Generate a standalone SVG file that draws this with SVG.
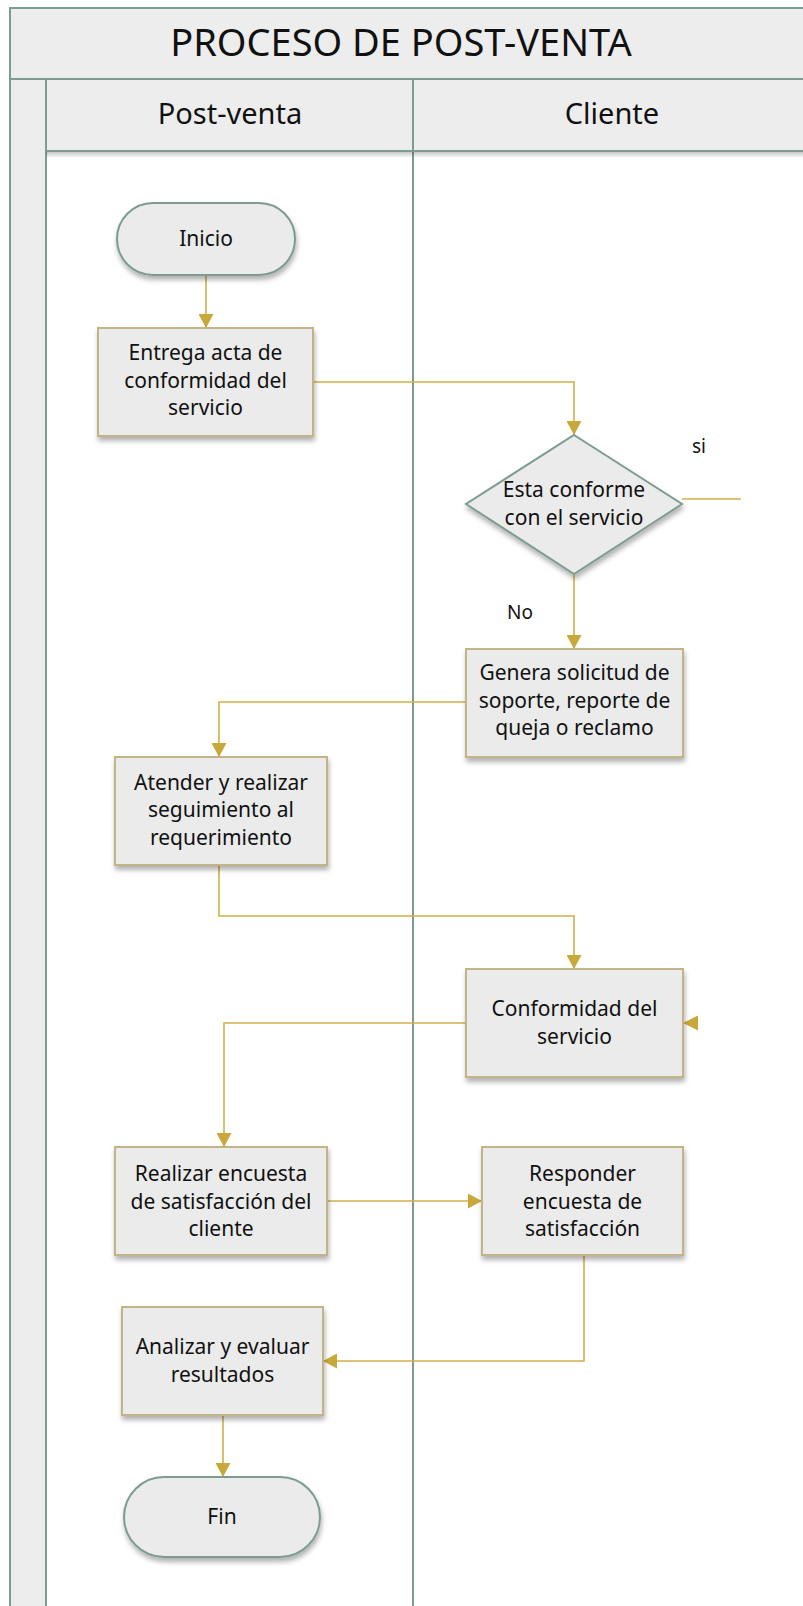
<svg xmlns="http://www.w3.org/2000/svg" width="803" height="1606" viewBox="0 0 803 1606">
  <defs>
    <style>
      .frame { fill: #EDEDED; stroke: #7D9C90; stroke-width: 2; }
      .lane { fill: #FFFFFF; stroke: #7D9C90; stroke-width: 2; }
      .box { fill: #EBEBEB; stroke: #C2B487; stroke-width: 2; filter: url(#sh); }
      .term { fill: #EBEBEB; stroke: #7D9C90; stroke-width: 2; filter: url(#sh); }
      .dec { fill: #EBEBEB; stroke: #7D9C90; stroke-width: 2; filter: url(#sh); }
      .t { font-family: "Noto Sans", "Open Sans", sans-serif; font-size: 21px; fill: #111; text-anchor: middle; }
      .lbl { font-family: "Noto Sans", "Open Sans", sans-serif; font-size: 19px; fill: #111; }
      .title { font-family: "Noto Sans", "Open Sans", sans-serif; font-size: 38px; fill: #111; text-anchor: middle; }
      .head { font-family: "Noto Sans", "Open Sans", sans-serif; font-size: 29px; fill: #111; text-anchor: middle; }
      .c { fill: none; stroke: #D1B049; stroke-width: 1.6; }
    </style>
    <filter id="sh" x="-10%" y="-10%" width="125%" height="135%">
      <feDropShadow dx="1" dy="4" stdDeviation="2.5" flood-color="#000" flood-opacity="0.3"/>
    </filter>
    <linearGradient id="hs" x1="0" y1="0" x2="0" y2="1">
      <stop offset="0" stop-color="#000" stop-opacity="0.22"/>
      <stop offset="1" stop-color="#000" stop-opacity="0"/>
    </linearGradient>
    <marker id="ah" markerUnits="userSpaceOnUse" markerWidth="15" markerHeight="15" refX="14" refY="7.5" orient="auto">
      <path d="M0,0 L14,7.5 L0,15 Z" fill="#C9A83B"/>
    </marker>
  </defs>

  <g id="pool">
    <rect class="frame" x="10" y="8" width="805" height="71"/>
    <rect class="frame" x="10" y="79" width="36" height="1540"/>
    <rect class="lane" x="46" y="151" width="367" height="1470"/>
    <rect class="lane" x="413" y="151" width="402" height="1470"/>
    <rect x="46" y="152" width="769" height="6" fill="url(#hs)"/>
    <rect class="frame" x="46" y="79" width="367" height="72"/>
    <rect class="frame" x="413" y="79" width="402" height="72"/>
    <text class="title" x="401" y="56">PROCESO DE POST-VENTA</text>
    <text class="head" x="230" y="124">Post-venta</text>
    <text class="head" x="612" y="124">Cliente</text>
  </g>

  <g id="connectors">
    <path class="c" d="M206,275 V328" marker-end="url(#ah)"/>
    <path class="c" d="M313,382 H574 V435" marker-end="url(#ah)"/>
    <path class="c" d="M682,499 H741"/>
    <path class="c" d="M574,574 V649" marker-end="url(#ah)"/>
    <path class="c" d="M466,702 H219 V757" marker-end="url(#ah)"/>
    <path class="c" d="M219,865 V916 H574 V969" marker-end="url(#ah)"/>
    <path class="c" d="M466,1023 H224 V1147" marker-end="url(#ah)"/>
    <polygon points="683,1023 698,1015.5 698,1030.5" fill="#C9A83B"/>
    <path class="c" d="M327,1201 H482" marker-end="url(#ah)"/>
    <path class="c" d="M584,1255 V1361 H323" marker-end="url(#ah)"/>
    <path class="c" d="M223,1415 V1477" marker-end="url(#ah)"/>
    <text class="lbl" x="692" y="453">si</text>
    <text class="lbl" x="507" y="619">No</text>
  </g>

  <g id="inicio">
    <rect class="term" x="117" y="203" width="178" height="72" rx="36" ry="36"/>
    <text class="t" x="206" y="246">Inicio</text>
  </g>

  <g id="entrega">
    <rect class="box" x="98" y="328" width="215" height="108"/>
    <text class="t" x="205.5" y="360">Entrega acta de</text>
    <text class="t" x="205.5" y="388">conformidad del</text>
    <text class="t" x="205.5" y="415">servicio</text>
  </g>

  <g id="decision">
    <polygon class="dec" points="574,435 682,504 574,574 466,504"/>
    <text class="t" x="574" y="497">Esta conforme</text>
    <text class="t" x="574" y="525">con el servicio</text>
  </g>

  <g id="genera">
    <rect class="box" x="466" y="649" width="217" height="108"/>
    <text class="t" x="574.5" y="680">Genera solicitud de</text>
    <text class="t" x="574.5" y="708">soporte, reporte de</text>
    <text class="t" x="574.5" y="735">queja o reclamo</text>
  </g>

  <g id="atender">
    <rect class="box" x="115" y="757" width="212" height="108"/>
    <text class="t" x="221" y="790">Atender y realizar</text>
    <text class="t" x="221" y="817">seguimiento al</text>
    <text class="t" x="221" y="845">requerimiento</text>
  </g>

  <g id="conformidad">
    <rect class="box" x="466" y="969" width="217" height="108"/>
    <text class="t" x="574.5" y="1016">Conformidad del</text>
    <text class="t" x="574.5" y="1044">servicio</text>
  </g>

  <g id="realizar">
    <rect class="box" x="115" y="1147" width="212" height="108"/>
    <text class="t" x="221" y="1181">Realizar encuesta</text>
    <text class="t" x="221" y="1209">de satisfacción del</text>
    <text class="t" x="221" y="1236">cliente</text>
  </g>

  <g id="responder">
    <rect class="box" x="482" y="1147" width="201" height="108"/>
    <text class="t" x="582.5" y="1181">Responder</text>
    <text class="t" x="582.5" y="1209">encuesta de</text>
    <text class="t" x="582.5" y="1236">satisfacción</text>
  </g>

  <g id="analizar">
    <rect class="box" x="122" y="1307" width="201" height="108"/>
    <text class="t" x="222.5" y="1354">Analizar y evaluar</text>
    <text class="t" x="222.5" y="1382">resultados</text>
  </g>

  <g id="fin">
    <rect class="term" x="124" y="1477" width="196" height="80" rx="40" ry="40"/>
    <text class="t" x="222" y="1524">Fin</text>
  </g>
</svg>
